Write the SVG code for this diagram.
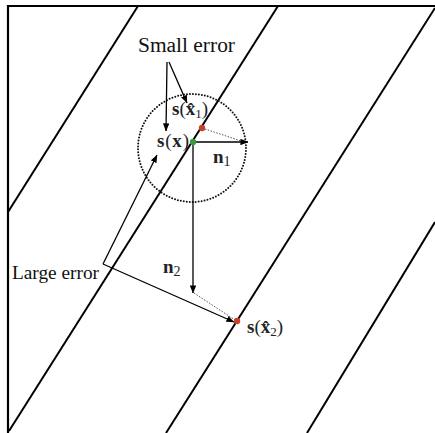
<svg xmlns="http://www.w3.org/2000/svg" width="435" height="433" viewBox="0 0 435 433">
<defs>
<marker id="ah" viewBox="0 0 10 8" refX="9.5" refY="4" markerWidth="8" markerHeight="6.4" markerUnits="userSpaceOnUse" orient="auto">
<path d="M0,0 L10,4 L0,8 Z" fill="#000"/>
</marker>
<style>
.frame{stroke:#000;stroke-width:2.2;fill:none}
.ln{stroke:#000;stroke-width:2;fill:none}
.arr{stroke:#000;stroke-width:1.3;fill:none;marker-end:url(#ah)}
.dot{stroke:#555;stroke-width:1;stroke-dasharray:1.5 1.5;fill:none}
.circ{stroke:#111;stroke-width:2;stroke-dasharray:0 3;stroke-linecap:round;fill:none}
.txt{font-family:"Liberation Serif","Times New Roman",serif;fill:#111}
.m{font-family:"Liberation Serif","Times New Roman",serif;fill:#222;font-size:19px}
.b{font-weight:bold}
</style>
</defs>
<rect width="435" height="433" fill="#fff"/>
<g id="frame">
<path class="frame" d="M8,433 L8,6 L435,6"/>
</g>
<g id="level-lines">
<line class="ln" x1="138" y1="6" x2="8" y2="212"/>
<line class="ln" x1="278" y1="6" x2="9" y2="431"/>
<line class="ln" x1="435" y1="8" x2="166" y2="433"/>
<line class="ln" x1="435" y1="222" x2="307" y2="433"/>
</g>
<g id="neighbourhood">
<circle class="circ" cx="192" cy="148" r="54"/>
</g>
<g id="connectors">
<line class="arr" x1="193" y1="142" x2="248" y2="142"/>
<line class="arr" x1="193" y1="142" x2="193" y2="293"/>
<line class="dot" x1="202" y1="128" x2="241" y2="141"/>
<line class="dot" x1="194" y1="293" x2="235" y2="320"/>
<line class="arr" x1="167" y1="62" x2="166" y2="131"/>
<line class="arr" x1="169" y1="62" x2="187" y2="103"/>
<line class="arr" x1="103" y1="264" x2="157" y2="155"/>
<line class="arr" x1="103" y1="264" x2="234" y2="322"/>
</g>
<g id="point-x">
<circle cx="193" cy="142" r="3.2" fill="#3c9a3c"/>
<text class="m" x="157" y="147" letter-spacing="0.8"><tspan class="b">s</tspan>(<tspan class="b">x</tspan>)</text>
</g>
<g id="point-x1">
<circle cx="202" cy="128" r="3.2" fill="#c8402a"/>
<text class="m" x="172" y="115"><tspan class="b">s</tspan>(<tspan class="b">x̂</tspan><tspan font-size="13" dy="3">1</tspan><tspan dy="-3">)</tspan></text>
</g>
<g id="point-x2">
<circle cx="237" cy="321" r="3.2" fill="#c8402a"/>
<text class="m" x="247" y="333"><tspan class="b">s</tspan>(<tspan class="b">x̂</tspan><tspan font-size="13" dy="3">2</tspan><tspan dy="-3">)</tspan></text>
</g>
<g id="label-n1">
<text class="m" x="213" y="163" font-size="22"><tspan class="b">n</tspan><tspan font-size="14" dy="3">1</tspan></text>
</g>
<g id="label-n2">
<text class="m" x="163" y="273" font-size="22"><tspan class="b">n</tspan><tspan font-size="14" dy="3">2</tspan></text>
</g>
<g id="label-small">
<text class="txt" x="138" y="52" font-size="20" textLength="97" lengthAdjust="spacingAndGlyphs">Small error</text>
</g>
<g id="label-large">
<text class="txt" x="12" y="279" font-size="18" textLength="87" lengthAdjust="spacingAndGlyphs">Large error</text>
</g>
</svg>
